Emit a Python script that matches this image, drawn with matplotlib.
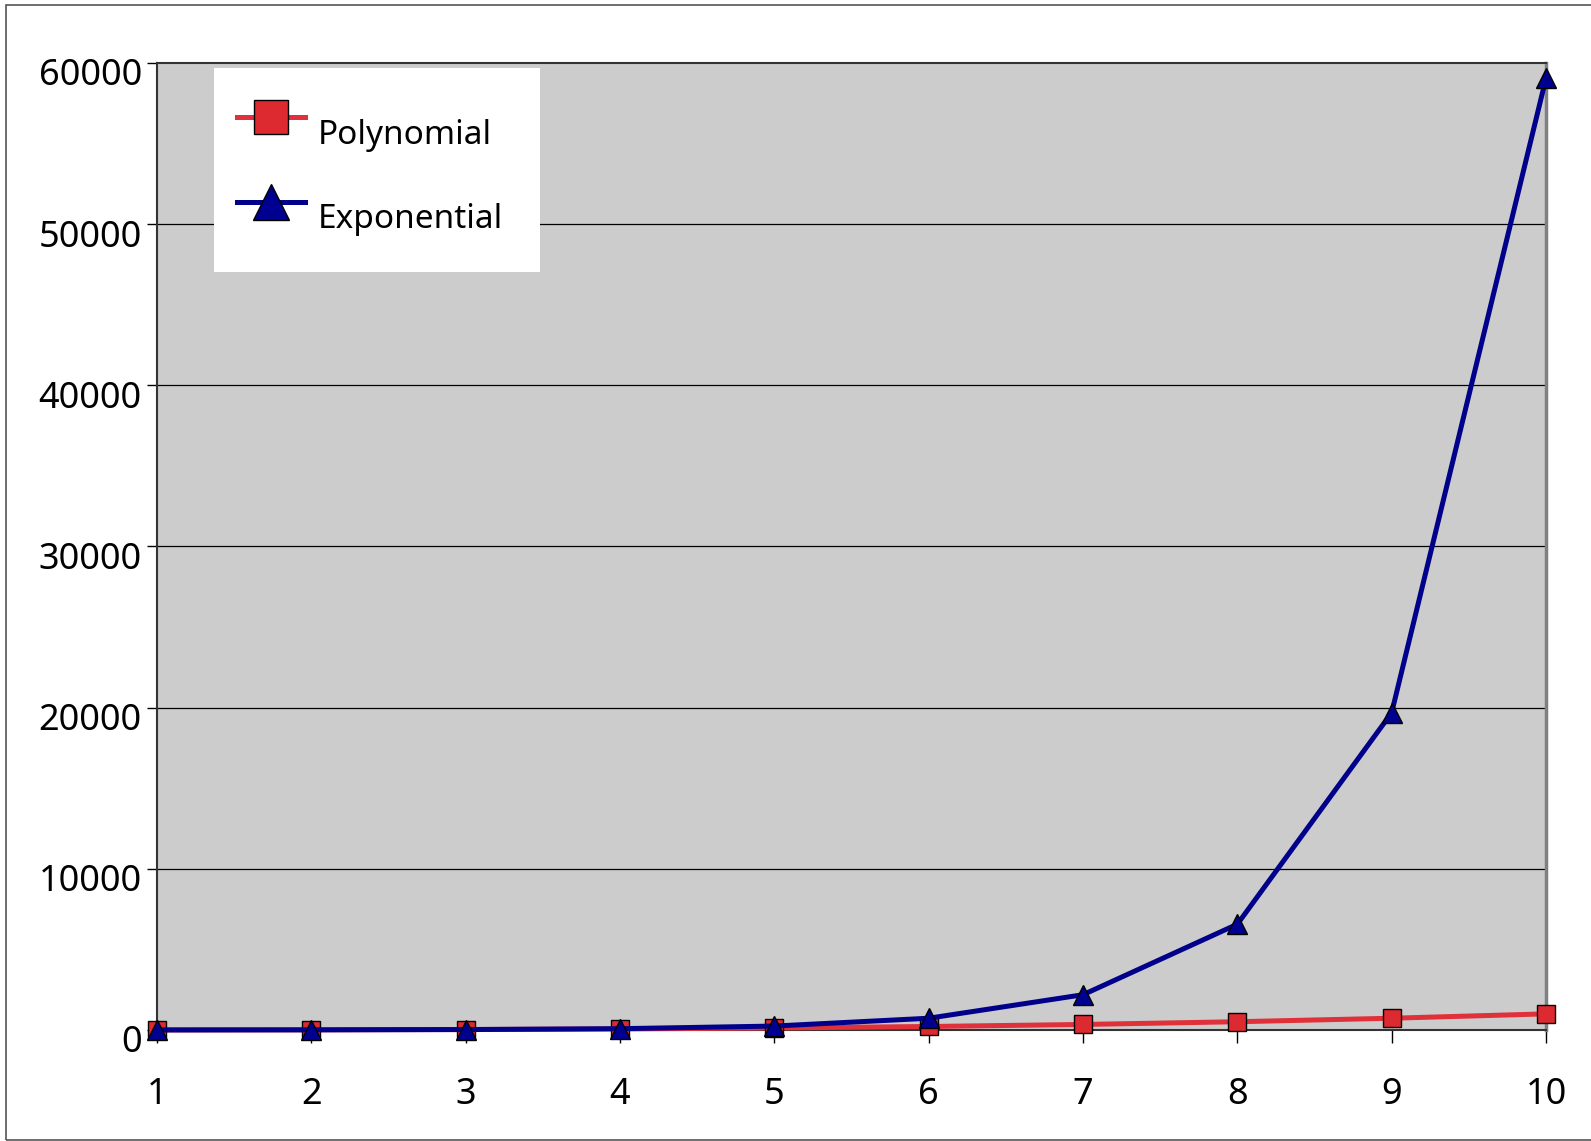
import matplotlib.pyplot as plt
from matplotlib.patches import Rectangle
from matplotlib.transforms import ScaledTranslation

plt.rcParams['font.family'] = ['Noto Sans', 'DejaVu Sans']

n = [1, 2, 3, 4, 5, 6, 7, 8, 9, 10]
polynomial = [1, 8, 27, 64, 125, 216, 343, 512, 729, 1000]
exponential = [3, 9, 27, 81, 243, 729, 2187, 6561, 19683, 59049]
y_ticks = [0, 10000, 20000, 30000, 40000, 50000, 60000]

W, H = 1591, 1141
fig = plt.figure(figsize=(W / 100, H / 100), dpi=100)
ax = fig.add_axes([0.0987, 0.0973, 0.873, 0.8475])

# outer frame of the slide
fig.patches.append(Rectangle((6 / W, 1 / H), 1.2, 1 - 6 / H,
                             transform=fig.transFigure, fill=False,
                             edgecolor='#555555', lw=1.2))

ax.set_facecolor('#cccccc')
for y in y_ticks[1:-1]:
    ax.axhline(y, color='black', lw=0.9, zorder=1)

ax.plot(n, polynomial, color='#e0303a', lw=3.6, marker='s', markersize=13,
        markerfacecolor='#dd2a30', markeredgecolor='black', markeredgewidth=1,
        label='Polynomial', zorder=3, clip_on=False)
ax.plot(n, exponential, color='#00008b', lw=3.6, marker='^', markersize=14,
        markerfacecolor='#000090', markeredgecolor='black', markeredgewidth=1,
        label='Exponential', zorder=4, clip_on=False)

ax.set_xlim(1, 10)
ax.set_ylim(0, 60000)
ax.set_xticks(n)
ax.set_yticks(y_ticks)
ax.tick_params(axis='x', labelsize=26, length=9, width=1, pad=25, direction='out')
ax.tick_params(axis='y', labelsize=26, length=7, width=1, pad=4, direction='out')

# y labels sit a little below their ticks
shift = ScaledTranslation(0, -0.09, fig.dpi_scale_trans)
for lbl in ax.get_yticklabels():
    lbl.set_transform(lbl.get_transform() + shift)

for side in ['left', 'top', 'bottom']:
    ax.spines[side].set_color('#333333')
    ax.spines[side].set_linewidth(1.5)
ax.spines['right'].set_color('#808080')
ax.spines['right'].set_linewidth(2.5)

# white legend box, behind the legend entries
ax.add_patch(Rectangle((214 / W, 1 - 272 / H), (540 - 214) / W, (272 - 68) / H,
                       transform=fig.transFigure, facecolor='white',
                       edgecolor='none', zorder=4.5, clip_on=False))

leg = ax.legend(loc='upper left', bbox_to_anchor=(237 / W, 1 - 104 / H),
                bbox_transform=fig.transFigure, fontsize=24, frameon=False,
                markerscale=1.9, handlelength=2.05, handletextpad=0.36,
                labelspacing=1.54, borderpad=0, borderaxespad=0)
leg.set_zorder(5)
for t in leg.get_texts():
    t.set_y(-15)

fig.savefig('out.png', dpi=100, facecolor='white')
